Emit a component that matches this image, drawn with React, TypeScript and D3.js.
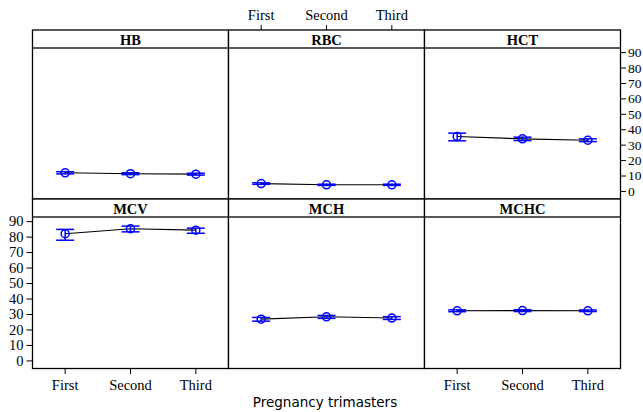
import React from "react";
import * as d3 from "d3";

// categories and panel names
const trimesters = ["First", "Second", "Third"];
const measures = ["HB", "RBC", "HCT", "MCV", "MCH", "MCHC"];
const yTickValues = [0, 10, 20, 30, 40, 50, 60, 70, 80, 90];

// means with lower / upper error bar ends
const hbMean = [12.1, 11.5, 11.2];
const hbLow = [11.4, 10.9, 10.6];
const hbHigh = [12.8, 12.1, 11.8];

const rbcMean = [5.1, 4.3, 4.3];
const rbcLow = [4.6, 3.9, 3.9];
const rbcHigh = [5.6, 4.7, 4.7];

const hctMean = [35.6, 34.1, 33.2];
const hctLow = [32.8, 33.0, 32.3];
const hctHigh = [37.8, 35.2, 34.1];

const mcvMean = [82.2, 85.4, 84.5];
const mcvLow = [78.0, 83.4, 82.5];
const mcvHigh = [85.0, 87.1, 85.8];

const mchMean = [27.0, 28.5, 27.7];
const mchLow = [25.7, 27.5, 26.8];
const mchHigh = [28.1, 29.4, 28.6];

const mchcMean = [32.4, 32.5, 32.4];
const mchcLow = [31.8, 31.9, 31.9];
const mchcHigh = [33.0, 33.1, 32.9];

const means = [hbMean, rbcMean, hctMean, mcvMean, mchMean, mchcMean];
const lows = [hbLow, rbcLow, hctLow, mcvLow, mchLow, mchcLow];
const highs = [hbHigh, rbcHigh, hctHigh, mcvHigh, mchHigh, mchcHigh];

const width = 643;
const height = 412;
const left = 32.5;
const panelW = 196;
const rowTops = [30, 199];
const stripH = 18;
const rowBottoms = [199, 368.5];
const blue = "#0000ff";
const serifStyle = { fontFamily: "Liberation Serif, Times New Roman, serif" };

export default function App() {
  const panels = measures.map((name, i) => {
    const row = Math.floor(i / 3);
    const col = i % 3;
    const x0 = left + col * panelW;
    const stripTop = rowTops[row];
    const panelTop = stripTop + stripH;
    const panelBottom = rowBottoms[row];

    const x = d3
      .scalePoint<string>()
      .domain(trimesters)
      .range([x0, x0 + panelW])
      .padding(0.5);
    const y = d3.scaleLinear().domain([-4.9, 93]).range([panelBottom, panelTop]);

    const line = d3
      .line<number>()
      .x((d, j) => x(trimesters[j]) as number)
      .y((d) => y(d));

    return (
      <g key={name}>
        <rect x={x0} y={stripTop} width={panelW} height={panelBottom - stripTop} fill="#fff" stroke="#000" strokeWidth={1.3} />
        <line x1={x0} x2={x0 + panelW} y1={panelTop} y2={panelTop} stroke="#222" strokeWidth={1.3} />
        <text
          x={x0 + panelW / 2}
          y={panelTop - 3.5}
          textAnchor="middle"
          style={serifStyle}
          fontWeight="bold"
          fontSize={14.5}
        >
          {name}
        </text>
        <path d={line(means[i]) as string} fill="none" stroke="#000" strokeWidth={1.1} />
        {trimesters.map((t, j) => {
          const cx = x(t) as number;
          return (
            <g key={t} stroke={blue} strokeWidth={1.5} fill="none">
              <line x1={cx} x2={cx} y1={y(lows[i][j])} y2={y(highs[i][j])} />
              <line x1={cx - 9} x2={cx + 9} y1={y(lows[i][j])} y2={y(lows[i][j])} />
              <line x1={cx - 9} x2={cx + 9} y1={y(highs[i][j])} y2={y(highs[i][j])} />
              <circle cx={cx} cy={y(means[i][j])} r={4} />
            </g>
          );
        })}
        {/* x axis on top for middle top panel */}
        {row === 0 && col === 1 &&
          trimesters.map((t) => (
            <g key={t}>
              <line x1={x(t)} x2={x(t)} y1={stripTop} y2={stripTop - 5} stroke="#000" />
              <text x={x(t)} y={stripTop - 10} textAnchor="middle" style={serifStyle} fontSize={14.5}>
                {t}
              </text>
            </g>
          ))}
        {/* x axis at bottom for bottom-left and bottom-right panels */}
        {row === 1 && col !== 1 &&
          trimesters.map((t) => (
            <g key={t}>
              <line x1={x(t)} x2={x(t)} y1={panelBottom} y2={panelBottom + 5.5} stroke="#000" />
              <text x={x(t)} y={panelBottom + 21.5} textAnchor="middle" style={serifStyle} fontSize={14.5}>
                {t}
              </text>
            </g>
          ))}
        {/* y axis right for top-right panel */}
        {row === 0 && col === 2 &&
          yTickValues.map((v) => (
            <g key={v}>
              <line x1={x0 + panelW} x2={x0 + panelW + 5.5} y1={y(v)} y2={y(v)} stroke="#000" />
              <text x={x0 + panelW + 7.5} y={y(v)} dy="0.33em" style={serifStyle} fontSize={13.5}>
                {v}
              </text>
            </g>
          ))}
        {/* y axis left for bottom-left panel */}
        {row === 1 && col === 0 &&
          yTickValues.map((v) => (
            <g key={v}>
              <line x1={x0} x2={x0 - 6} y1={y(v)} y2={y(v)} stroke="#000" />
              <text x={x0 - 9} y={y(v)} dy="0.33em" textAnchor="end" style={serifStyle} fontSize={14.5}>
                {v}
              </text>
            </g>
          ))}
      </g>
    );
  });

  return (
    <div style={{ position: "absolute", left: 0, top: 0 }}>
      <svg width={width} height={height} style={{ display: "block" }}>
        <rect width={width} height={height} fill="#fff" />
        {panels}
        <text
          x={325}
          y={407}
          textAnchor="middle"
          fontFamily="DejaVu Sans, Verdana, sans-serif"
          fontSize={13.5}
        >
          Pregnancy trimasters
        </text>
      </svg>
    </div>
  );
}
